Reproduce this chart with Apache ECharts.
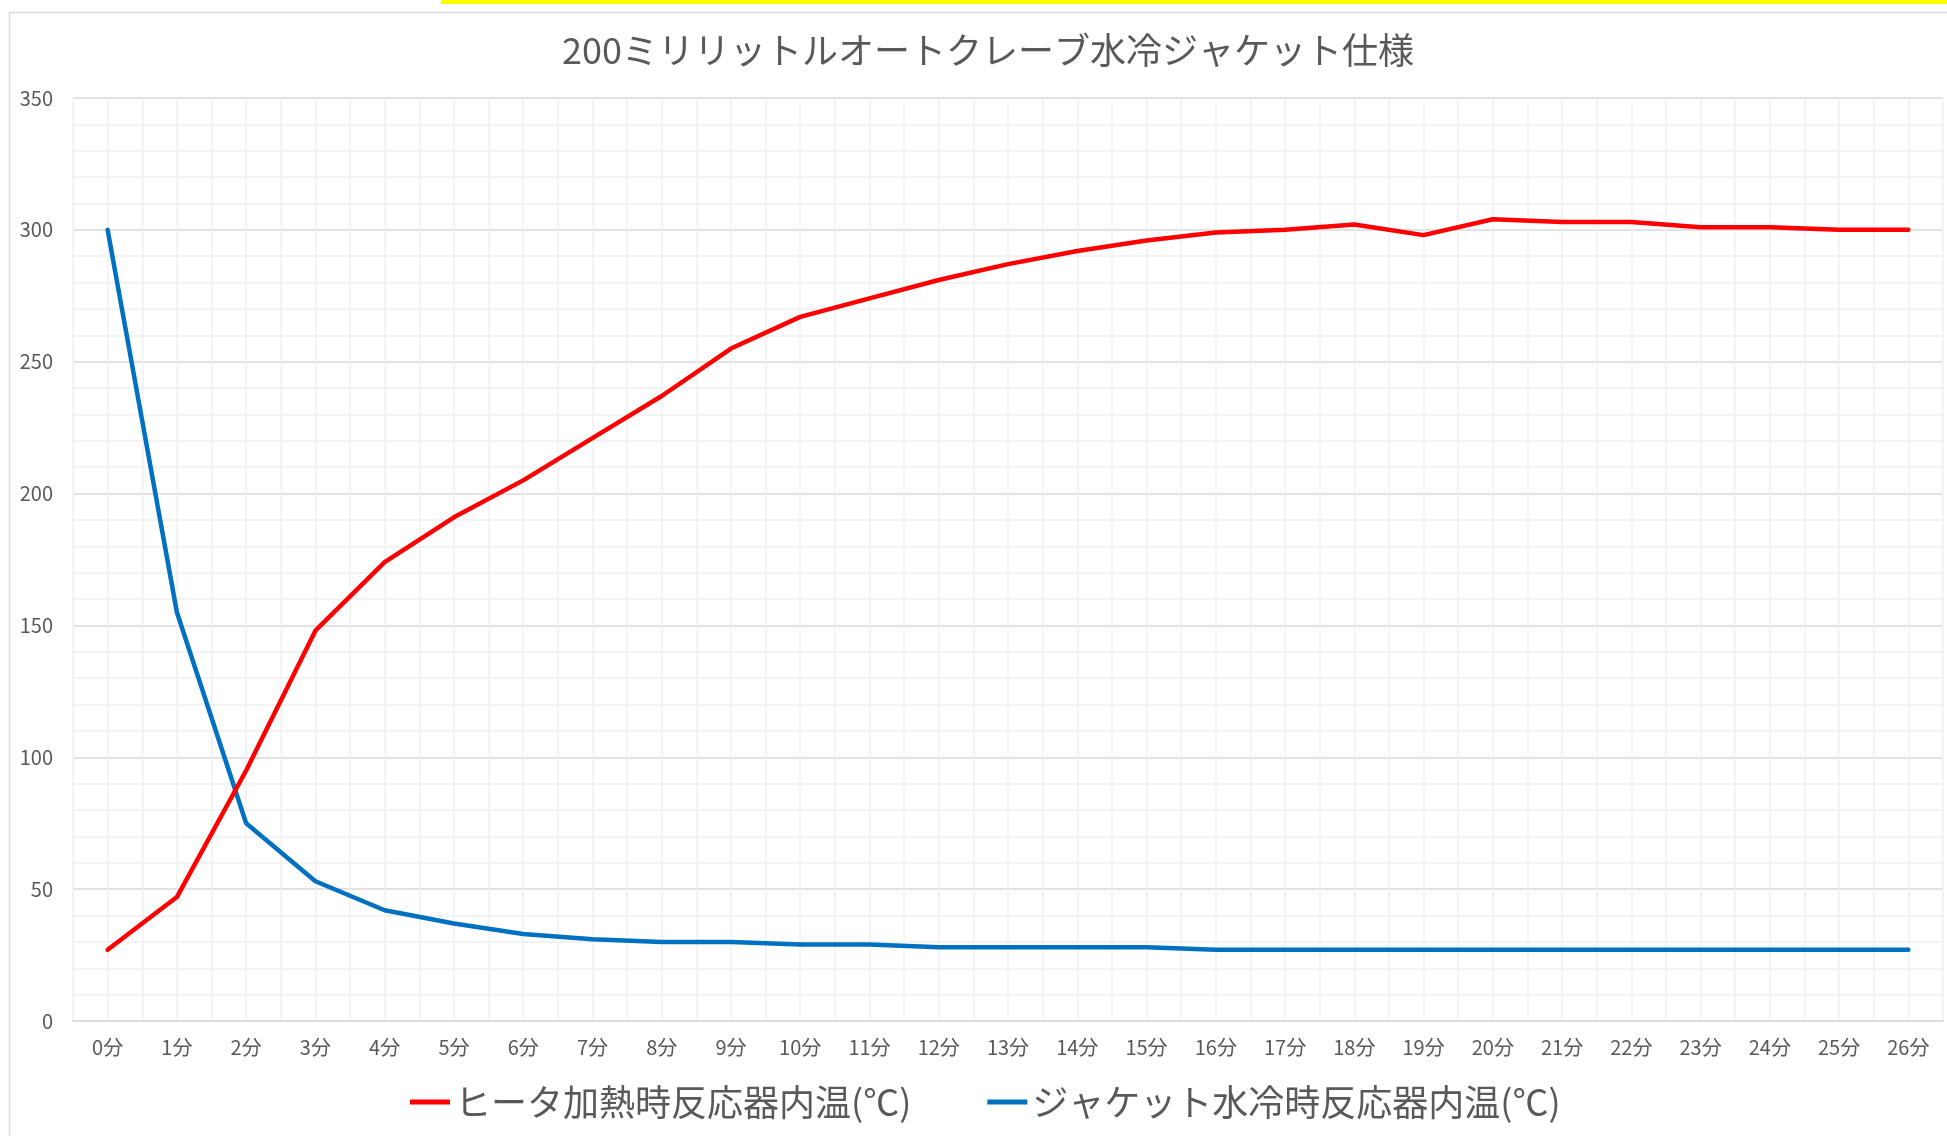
<!DOCTYPE html>
<html>
<head>
<meta charset="utf-8">
<script src="https://cdn.jsdelivr.net/npm/echarts@6/dist/echarts.min.js"></script>
<style>
html,body{margin:0;padding:0;background:#fff;}
#chart{width:1947px;height:1136px;}
</style>
</head>
<body>
<div id="chart"></div>
<script>
const titleText = '200ミリリットルオートクレーブ水冷ジャケット仕様';
const categories = ['0分','1分','2分','3分','4分','5分','6分','7分','8分','9分','10分','11分','12分','13分','14分','15分','16分','17分','18分','19分','20分','21分','22分','23分','24分','25分','26分'];
const heaterName = 'ヒータ加熱時反応器内温(℃)';
const jacketName = 'ジャケット水冷時反応器内温(℃)';
const heaterValues = [27,47,95,148,174,191,205,221,237,255,267,274,281,287,292,296,299,300,302,298,304,303,303,301,301,300,300];
const jacketValues = [300,155,75,53,42,37,33,31,30,30,29,29,28,28,28,28,27,27,27,27,27,27,27,27,27,27,27];
const yTicks = {min:0, max:350, interval:50};

const font = '"Noto Sans CJK JP", "Noto Sans", sans-serif';
const chart = echarts.init(document.getElementById('chart'), null, {renderer:'canvas'});
chart.setOption({
  backgroundColor:'#ffffff',
  animation:false,
  graphic:[
    {type:'rect', left:7, top:10, shape:{width:1960, height:1140}, style:{fill:'none', stroke:'#d9d9d9', lineWidth:1.5}, z:-10},
    {type:'rect', left:441, top:0, shape:{width:1510, height:4}, style:{fill:'#ffff00'}, z:-9}
  ],
  title:{
    text:titleText, left:557, top:27,
    textStyle:{fontFamily:font, fontSize:36, fontWeight:'normal', color:'#595959'}
  },
  legend:{
    left:405, top:1079,
    itemWidth:40, itemHeight:5, itemGap:76, icon:'rect',
    textStyle:{fontFamily:font, fontSize:36, color:'#595959'},
    data:[heaterName, jacketName]
  },
  grid:{left:73, top:98, right:4, bottom:115, containLabel:false},
  xAxis:[
    {
      type:'category', data:categories, boundaryGap:true,
      axisLine:{show:true, lineStyle:{color:'#d9d9d9', width:1.5}},
      axisTick:{show:false},
      axisLabel:{fontFamily:font, fontSize:20, color:'#595959', margin:16},
      splitLine:{show:false}
    },
    {
      type:'value', min:-0.5, max:26.5, interval:0.5, position:'bottom',
      axisLine:{show:false}, axisTick:{show:false}, axisLabel:{show:false},
      splitLine:{show:true, lineStyle:{color:'#f0f0f0', width:1.5}}
    }
  ],
  yAxis:{
    type:'value', min:yTicks.min, max:yTicks.max, interval:yTicks.interval,
    axisLine:{show:false}, axisTick:{show:false},
    axisLabel:{fontFamily:font, fontSize:20, color:'#595959', margin:20},
    splitLine:{show:true, lineStyle:{color:'#d9d9d9', width:1.5}},
    minorTick:{show:false, splitNumber:5},
    minorSplitLine:{show:true, lineStyle:{color:'#f0f0f0', width:1.5}}
  },
  series:[
    {name:heaterName, type:'line', xAxisIndex:0, data:heaterValues, symbol:'none',
     lineStyle:{color:'#ff0000', width:4.5, cap:'round', join:'round'}, itemStyle:{color:'#ff0000'}, z:3},
    {name:jacketName, type:'line', xAxisIndex:0, data:jacketValues, symbol:'none',
     lineStyle:{color:'#0070c0', width:4.5, cap:'round', join:'round'}, itemStyle:{color:'#0070c0'}, z:2}
  ]
});
</script>
</body>
</html>
